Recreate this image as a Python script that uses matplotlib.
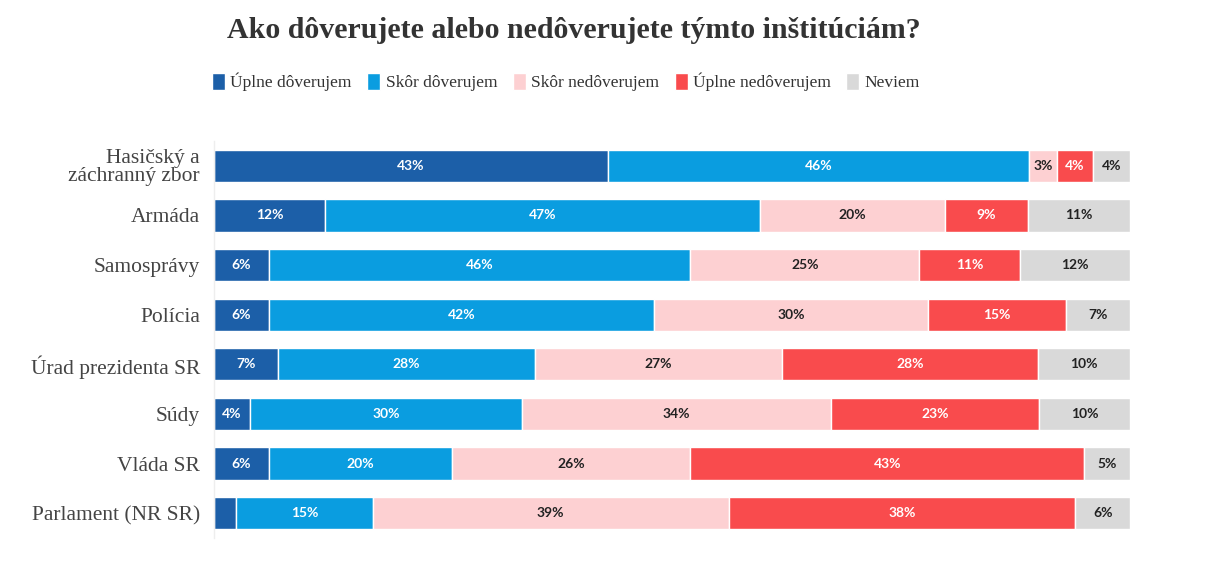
import matplotlib
matplotlib.use("Agg")
import matplotlib.pyplot as plt
import numpy as np

categories = ["Hasičský a\nzáchranný zbor", "Armáda", "Samosprávy", "Polícia",
              "Úrad prezidenta SR", "Súdy", "Vláda SR", "Parlament (NR SR)"]
series_names = ["Úplne dôverujem", "Skôr dôverujem", "Skôr nedôverujem",
                "Úplne nedôverujem", "Neviem"]
uplne_doverujem = [43, 12, 6, 6, 7, 4, 6, 2.4]
skor_doverujem = [46, 47, 46, 42, 28, 30, 20, 15]
skor_nedoverujem = [3, 20, 25, 30, 27, 34, 26, 39]
uplne_nedoverujem = [4, 9, 11, 15, 28, 23, 43, 38]
neviem = [4, 11, 12, 7, 10, 10, 5, 6]

colors = ["#1c5fa8", "#0a9de0", "#fdd0d2", "#f94b4d", "#d9d9d9"]
label_colors = ["white", "white", "#222222", "white", "#222222"]

data = np.array([uplne_doverujem, skor_doverujem, skor_nedoverujem,
                 uplne_nedoverujem, neviem], dtype=float)
totals = data.sum(axis=0)
pct = data / totals * 100

fig = plt.figure(figsize=(12.1, 5.75), dpi=100)
ax = fig.add_axes([214/1210, 1-538/575, (1130-214)/1210, (538-141)/575])

y = np.arange(len(categories))
left = np.zeros(len(categories))
for i, name in enumerate(series_names):
    ax.barh(y, pct[i], left=left, height=0.65, color=colors[i],
            edgecolor="white", linewidth=1, label=name)
    for j in range(len(categories)):
        v = data[i, j]
        if v >= 3:
            ax.text(left[j] + pct[i, j] / 2, y[j], f"{round(v)}%",
                    ha="center", va="center", fontsize=10, fontweight="bold",
                    color=label_colors[i], family="Lato")
    left += pct[i]

ax.set_xlim(0, 100)
ax.set_ylim(len(categories) - 0.5, -0.5)
ax.set_yticks(y)
ax.set_yticklabels(categories, fontsize=15.5, color="#444444",
                   family="Liberation Serif", linespacing=0.9)
ax.set_xticks([])
ax.tick_params(axis="y", length=0, pad=10)
for s in ["top", "right", "bottom"]:
    ax.spines[s].set_visible(False)
ax.spines["left"].set_color("#eeeeee")
ax.spines["left"].set_linewidth(1)

fig.text(574/1210, 1-31/575, "Ako dôverujete alebo nedôverujete týmto inštitúciám?",
         ha="center", va="center", fontsize=21.5, fontweight="bold",
         color="#333333", family="Liberation Serif")

leg = fig.legend(loc="center", bbox_to_anchor=(566/1210, 1-82/575), ncol=5,
                 frameon=False, prop={"family": "Liberation Serif", "size": 12.5},
                 handlelength=0.75, handleheight=1.1, handletextpad=0.3,
                 columnspacing=0.9)
for t in leg.get_texts():
    t.set_color("#333333")

fig.savefig("out.png", dpi=100, facecolor="white")
